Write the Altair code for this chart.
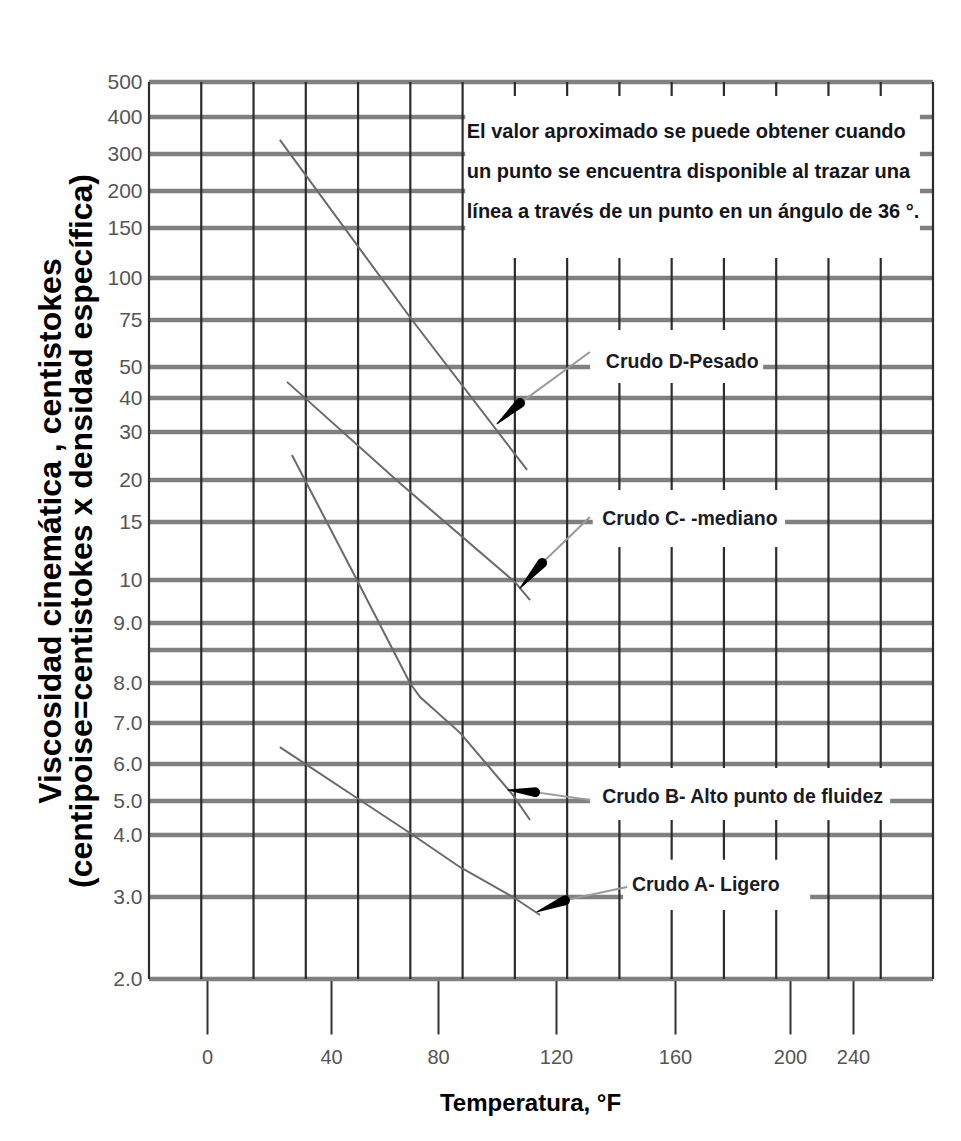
import altair as alt
import pandas as pd

# ---------------- data ----------------
# labelled horizontal grid values (viscosity)
y_ticks = [500, 400, 300, 200, 150, 100, 75, 50, 40, 30, 20, 15, 10, 9, 8, 7, 6, 5, 4, 3, 2]
y_extra_lines = [8.55]               # unlabelled grid line between 9.0 and 8.0
x_ticks = [0, 40, 80, 120, 160, 200, 240]
grid_cols = list(range(16))          # evenly spaced vertical grid lines (incl. borders)

crude_D_T = [23.5, 70.3, 110.2]
crude_D_v = [338, 75, 22.1]
crude_C_T = [25.8, 65.8, 106.1, 111.2]
crude_C_v = [45.2, 19.6, 9.95, 9.53]
crude_B_T = [27.4, 49.7, 69.5, 73.3, 87.5, 105.4, 111.2]
crude_B_v = [25.2, 10.0, 8.0, 7.65, 6.76, 5.16, 4.44]
crude_A_T = [23.5, 32.3, 49.7, 69.5, 87.5, 105.4, 114.6]
crude_A_v = [6.41, 5.97, 5.08, 4.06, 3.48, 3.0, 2.78]

# arrows: tip (on curve), wedge base, end of leader (near label)
arrow_names = ["D", "C", "B", "A"]
arrow_tip_T = [100.0, 107.8, 103.7, 113.6]
arrow_tip_v = [32.4, 9.81, 5.30, 2.82]
arrow_base_T = [107.8, 115.3, 112.9, 123.0]
arrow_base_v = [38.5, 11.47, 5.24, 2.96]
arrow_end_T = [131.4, 131.4, 131.4, 143.9]
arrow_end_v = [58.0, 15.6, 5.03, 3.16]

label_texts = ["Crudo D-Pesado", "Crudo C- -mediano", "Crudo B- Alto punto de fluidez", "Crudo A- Ligero"]
label_col = [8.74, 8.67, 8.67, 9.24]
label_v = [52.7, 15.36, 5.11, 3.19]
label_box_c1 = [8.44, 8.49, 8.44, 9.07]
label_box_c2 = [11.75, 12.17, 14.18, 12.65]
label_box_v1 = [69.7, 18.8, 5.89, 3.60]
label_box_v2 = [44.8, 12.84, 4.44, 2.84]

note_lines = [
    "El valor aproximado se puede obtener cuando",
    "un punto se encuentra disponible al trazar una",
    "línea a través de un punto en un ángulo de 36 °.",
]
note_col = [6.08, 6.08, 6.08]
note_v = [359, 251, 172]
note_box = dict(c1=6.05, c2=14.75, v1=460, v2=120)

# ---------------- tables ----------------
curves = pd.DataFrame(
    [("D", t, v, i) for i, (t, v) in enumerate(zip(crude_D_T, crude_D_v))]
    + [("C", t, v, i) for i, (t, v) in enumerate(zip(crude_C_T, crude_C_v))]
    + [("B", t, v, i) for i, (t, v) in enumerate(zip(crude_B_T, crude_B_v))]
    + [("A", t, v, i) for i, (t, v) in enumerate(zip(crude_A_T, crude_A_v))],
    columns=["crude", "T", "v", "o"],
)
wedges = pd.DataFrame(
    [(n, t, v, 0) for n, t, v in zip(arrow_names, arrow_tip_T, arrow_tip_v)]
    + [(n, t, v, 1) for n, t, v in zip(arrow_names, arrow_base_T, arrow_base_v)],
    columns=["crude", "T", "v", "w"],
)
leaders = pd.DataFrame(
    [(n, t, v, 0) for n, t, v in zip(arrow_names, arrow_base_T, arrow_base_v)]
    + [(n, t, v, 1) for n, t, v in zip(arrow_names, arrow_end_T, arrow_end_v)],
    columns=["crude", "T", "v", "o"],
)
hlines = pd.DataFrame({"v": y_ticks + y_extra_lines})
vlines = pd.DataFrame({"g": grid_cols})
boxes = pd.DataFrame({
    "g1": label_box_c1 + [note_box["c1"]],
    "g2": label_box_c2 + [note_box["c2"]],
    "v1": label_box_v1 + [note_box["v1"]],
    "v2": label_box_v2 + [note_box["v2"]],
})
labels = pd.DataFrame({"txt": label_texts, "g": label_col, "v": label_v})
notes = pd.DataFrame({"txt": note_lines, "g": note_col, "v": note_v})

# ---------------- scales / axes ----------------
W, H = 784, 897
FONT = "Liberation Sans, Arial, sans-serif"

y_dom = sorted(y_ticks)
# printed (non-uniform) positions of the ruled lines, top = 0
y_rng = [897, 815, 753, 719, 682, 641, 601, 541, 498, 440, 398, 350, 316, 285, 238, 196, 146, 109, 72, 35, 0]
yscale = alt.Scale(type="linear", domain=y_dom, range=y_rng, nice=False, zero=False)

x_rng = [58, 182, 289, 407, 526, 641, 704]
tscale = alt.Scale(type="linear", domain=x_ticks, range=x_rng, nice=False, zero=False)
gscale = alt.Scale(type="linear", domain=[0, 15], nice=False, zero=False)

yaxis = alt.Axis(
    values=y_ticks,
    labelExpr="datum.value < 10 ? format(datum.value, '.1f') : format(datum.value, 'd')",
    grid=False, ticks=False, domain=False,
    labelFont=FONT, labelFontSize=21, labelColor="#555555", labelPadding=7,
    labelOverlap=False,
    title=["Viscosidad cinemática , centistokes", "(centipoise=centistokes x densidad específica)"],
    titleFont=FONT, titleFontSize=32, titleFontWeight="bold", titleColor="black",
    titlePadding=8, titleLineHeight=31,
)
xaxis = alt.Axis(
    values=x_ticks, grid=False, domain=False,
    ticks=True, tickSize=55, tickColor="#333333", tickWidth=2,
    labelFont=FONT, labelFontSize=20, labelColor="#555555", labelPadding=13,
    labelOverlap=False, labelFlush=False,
    title="Temperatura, °F", titleFont=FONT, titleFontSize=24, titleFontWeight="bold",
    titleColor="black", titlePadding=24,
)


def Y(field):
    return alt.Y(f"{field}:Q", scale=yscale, axis=yaxis)


h_layer = alt.Chart(hlines).mark_rule(color="#808080", strokeWidth=4.5).encode(y=Y("v"))
v_layer = alt.Chart(vlines).mark_rule(color="#2c2c2c", strokeWidth=2.2).encode(
    x=alt.X("g:Q", scale=gscale, axis=None)
)
box_layer = alt.Chart(boxes).mark_rect(color="white").encode(
    x=alt.X("g1:Q", scale=gscale, axis=None), x2="g2:Q", y=Y("v1"), y2="v2:Q"
)
curve_layer = alt.Chart(curves).mark_line(color="#6a6a6a", strokeWidth=2).encode(
    x=alt.X("T:Q", scale=tscale, axis=xaxis), y=Y("v"), detail="crude:N", order="o:Q"
)
leader_layer = alt.Chart(leaders).mark_line(color="#9a9a9a", strokeWidth=2).encode(
    x=alt.X("T:Q", scale=tscale, axis=None), y=Y("v"), detail="crude:N", order="o:Q"
)
wedge_layer = alt.Chart(wedges).mark_trail(color="black").encode(
    x=alt.X("T:Q", scale=tscale, axis=None), y=Y("v"), detail="crude:N", order="w:Q",
    size=alt.Size("w:Q", scale=alt.Scale(domain=[0, 1], range=[1, 10]), legend=None),
)
label_layer = alt.Chart(labels).mark_text(
    align="left", baseline="middle", font=FONT, fontSize=19.5, fontWeight="bold", color="#1b1b25"
).encode(x=alt.X("g:Q", scale=gscale, axis=None), y=Y("v"), text="txt:N")
note_layer = alt.Chart(notes).mark_text(
    align="left", baseline="middle", font=FONT, fontSize=20, fontWeight="bold", color="#15151c"
).encode(x=alt.X("g:Q", scale=gscale, axis=None), y=Y("v"), text="txt:N")

chart = (
    alt.layer(h_layer, v_layer, box_layer, curve_layer, leader_layer, wedge_layer, label_layer, note_layer)
    .resolve_scale(x="independent")
    .properties(
        width=W, height=H,
        autosize=alt.AutoSizeParams(type="none"),
        padding={"left": 149, "top": 82, "right": 28, "bottom": 162},
        background="white",
    )
    .configure_view(stroke=None)
)

chart.save("out.html", embed_options={"renderer": "svg", "actions": False})
